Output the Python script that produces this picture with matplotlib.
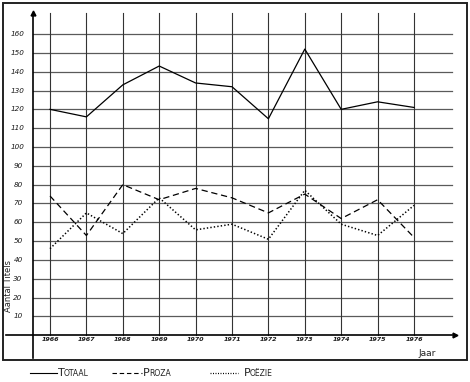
import matplotlib
matplotlib.use("Agg")
import matplotlib.pyplot as plt
from matplotlib.lines import Line2D
from matplotlib.patches import Rectangle

# ---- data ----
years = [1966, 1967, 1968, 1969, 1970, 1971, 1972, 1973, 1974, 1975, 1976]
totaal = [120, 116, 133, 143, 134, 132, 115, 152, 120, 124, 121]
proza = [74, 53, 80, 72, 78, 73, 65, 75, 62, 72, 52]
poezie = [46, 65, 54, 73, 56, 59, 51, 77, 59, 53, 69]
y_ticks = [10, 20, 30, 40, 50, 60, 70, 80, 90, 100, 110, 120, 130, 140, 150, 160]
year_labels = [str(y) for y in years]

W, H = 470, 382
fig = plt.figure(figsize=(W / 100, H / 100), dpi=100)
ax = fig.add_axes([0, 0, 1, 1])

# pixel layout of the drawing
PX_YEAR = 36.4      # pixels per year
X0_PIX = 50         # pixel x of first year
PY_UNIT = 1.883     # pixels per unit of value
ZERO_PIX = 335.3    # pixel y of value 0

x_min = years[0] - X0_PIX / PX_YEAR
x_max = x_min + W / PX_YEAR
y_max = ZERO_PIX / PY_UNIT
y_min = (ZERO_PIX - H) / PY_UNIT
ax.set_xlim(x_min, x_max)
ax.set_ylim(y_min, y_max)
ax.axis("off")


def px(xp):
    return x_min + xp / PX_YEAR


def py(yp):
    return (ZERO_PIX - yp) / PY_UNIT


# outer frame
ax.add_patch(Rectangle((3 / W, 1 - 360 / H), 464 / W, 357 / H, transform=ax.transAxes,
                       fill=False, lw=1.4, ec="#222222"))

# grid
for t in y_ticks:
    ax.plot([px(33), px(452)], [t, t], color="#5a5a5a", lw=0.9, zorder=1)
for yr in years:
    ax.plot([yr, yr], [0, py(13)], color="#333333", lw=0.8, zorder=1)

# axes with arrows
ax.plot([px(32.5), px(32.5)], [py(358), py(14)], color="black", lw=1.2, zorder=2)
ax.plot([px(32.5)], [py(13)], marker="^", color="black", ms=3.5, zorder=2)
ax.plot([px(6), px(452)], [0, 0], color="black", lw=1.2, zorder=2)
ax.plot([px(455)], [0], marker=">", color="black", ms=3.5, zorder=2)

# series
ax.plot(years, totaal, color="black", lw=0.9, zorder=3)
ax.plot(years, proza, color="black", lw=0.9, dashes=(5, 3), zorder=3)
ax.plot(years, poezie, color="black", lw=1.1, dashes=(0.9, 1.4), zorder=3)

# tick labels
for t in y_ticks:
    ax.text(px(18), t, str(t), ha="center", va="center", fontsize=5.2,
            style="italic", color="#1a1a1a")
for yr, lab in zip(years, year_labels):
    ax.text(yr, py(337), lab, ha="center", va="top", fontsize=4.6,
            style="italic", fontweight="bold", color="#1a1a1a")

# axis labels
ax.text(px(9), py(286), "Aantal Titels", rotation=90, ha="center", va="center",
        fontsize=6, color="#222222")
ax.text(px(418), py(353), "Jaar", ha="left", va="center", fontsize=6.5, color="#222222")

# legend (below frame)
ly = py(373)
ax.add_line(Line2D([px(30), px(57)], [ly, ly], color="black", lw=0.8))
ax.add_line(Line2D([px(112), px(142)], [ly, ly], color="black", lw=0.8, dashes=(4, 2.5)))
ax.add_line(Line2D([px(210), px(238)], [ly, ly], color="black", lw=0.9, dashes=(0.8, 1.2)))

for x_start, cap_w, word in [(58, 6.0, "Totaal"), (143, 6.0, "Proza"), (244, 6.0, "Poëzie")]:
    ax.text(px(x_start), py(376), word[0], ha="left", va="baseline",
            fontsize=8, color="#222222")
    ax.text(px(x_start + cap_w), py(376), word[1:].upper(), ha="left", va="baseline",
            fontsize=5.5, color="#222222")

fig.savefig("out.png", dpi=100)
